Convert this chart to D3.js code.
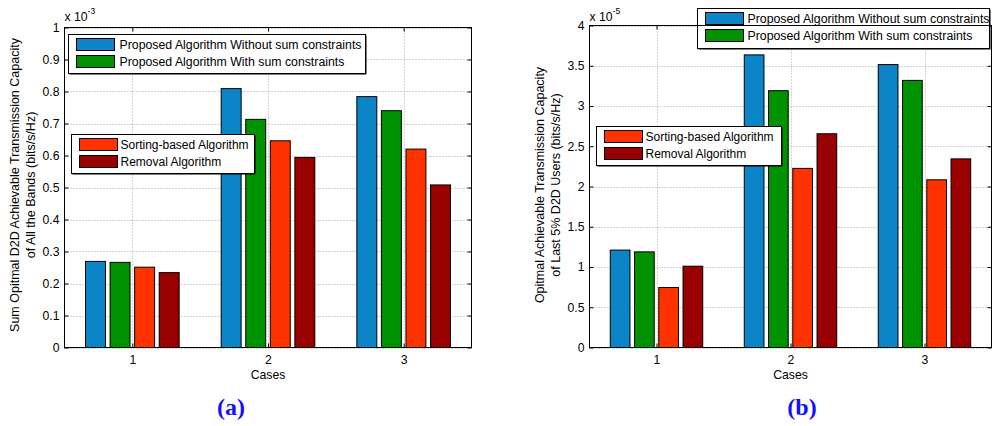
<!DOCTYPE html>
<html><head><meta charset="utf-8">
<script src="https://cdn.jsdelivr.net/npm/d3@7"></script>
<style>
body{margin:0;background:#fff}
svg{display:block}
text{font-family:Arial,"Liberation Sans",Helvetica,sans-serif;fill:#000}
</style>
</head><body>
<svg id="fig" width="992" height="426"></svg>
<script>
// Cases on the x axis and the four compared algorithms
const cases = [1, 2, 3];
const seriesNames = [
  "Proposed Algorithm Without sum constraints",
  "Proposed Algorithm With sum constraints",
  "Sorting-based Algorithm",
  "Removal Algorithm"
];
const seriesColors = ["#0b84c8", "#009200", "#ff3300", "#990000"];

// (a) sum capacity over all bands, in units of 1e-3 bits/s/Hz
const sumWithout = [0.269, 0.809, 0.784];
const sumWith    = [0.266, 0.713, 0.740];
const sumSorting = [0.251, 0.646, 0.620];
const sumRemoval = [0.234, 0.594, 0.508];
const sumTicks = [0, 0.1, 0.2, 0.3, 0.4, 0.5, 0.6, 0.7, 0.8, 0.9, 1];
const sumTickLabels = ["0", "0.1", "0.2", "0.3", "0.4", "0.5", "0.6", "0.7", "0.8", "0.9", "1"];

// (b) capacity of the last 5% D2D users, in units of 1e-5 bits/s/Hz
const lastWithout = [1.210, 3.635, 3.515];
const lastWith    = [1.188, 3.190, 3.318];
const lastSorting = [0.745, 2.225, 2.083];
const lastRemoval = [1.010, 2.655, 2.343];
const lastTicks = [0, 0.5, 1, 1.5, 2, 2.5, 3, 3.5, 4];
const lastTickLabels = ["0", "0.5", "1", "1.5", "2", "2.5", "3", "3.5", "4"];

const FS = 12.2;

const svg = d3.select("#fig");
svg.append("rect").attr("width", 992).attr("height", 426).attr("fill", "#fff");

// bar group layout in x-axis units
const barOffsets = [-0.2715, -0.0905, 0.0905, 0.2715];
const barWidth = 0.147;

function drawPanel(o) {
  const g = svg.append("g");
  const x = d3.scaleLinear().domain([0.5, 3.5]).range([o.left, o.right]);
  const y = d3.scaleLinear().domain([0, o.ymax]).range([o.bottom, o.top]);

  // dotted grid
  const grid = g.append("g").attr("stroke", "#a8a8a8").attr("stroke-width", 1)
    .attr("stroke-dasharray", "1,2").attr("fill", "none");
  o.ticks.forEach(t => {
    const yy = Math.round(y(t)) + 0.5;
    grid.append("line").attr("x1", o.left).attr("x2", o.right).attr("y1", yy).attr("y2", yy);
  });
  cases.forEach(c => {
    const xx = Math.round(x(c)) + 0.5;
    grid.append("line").attr("x1", xx).attr("x2", xx).attr("y1", o.top).attr("y2", o.bottom);
  });

  // bars
  const bars = g.append("g");
  o.series.forEach((vals, si) => {
    vals.forEach((v, ci) => {
      const x0 = x(cases[ci] + barOffsets[si] - barWidth / 2);
      const x1 = x(cases[ci] + barOffsets[si] + barWidth / 2);
      bars.append("rect")
        .attr("x", x0).attr("width", x1 - x0)
        .attr("y", y(v)).attr("height", y(0) - y(v))
        .attr("fill", seriesColors[si])
        .attr("stroke", "#000").attr("stroke-width", 1);
    });
  });

  // axes: ticks pointing inward on all four sides
  const yAxisL = d3.axisLeft(y).tickValues(o.ticks).tickSize(-4).tickPadding(5)
    .tickFormat((d, i) => o.tickLabels[i]);
  const gl = g.append("g").attr("transform", `translate(${o.left},0)`).call(yAxisL);
  const yAxisR = d3.axisRight(y).tickValues(o.ticks).tickSize(-4).tickFormat("");
  const gr = g.append("g").attr("transform", `translate(${o.right},0)`).call(yAxisR);
  const xAxisB = d3.axisBottom(x).tickValues(cases).tickSize(-4).tickPadding(7.5)
    .tickFormat(d3.format("d"));
  const gb = g.append("g").attr("transform", `translate(0,${o.bottom})`).call(xAxisB);
  const xAxisT = d3.axisTop(x).tickValues(cases).tickSize(-4).tickFormat("");
  const gt = g.append("g").attr("transform", `translate(0,${o.top})`).call(xAxisT);
  [gl, gr, gb, gt].forEach(a => {
    a.select(".domain").remove();
    a.selectAll("text").attr("font-size", FS).attr("font-family", "Arial, 'Liberation Sans', sans-serif").attr("fill", "#000");
    a.selectAll("line").attr("stroke", "#000");
  });

  // legends (drawn over the bars)
  o.legends.forEach(L => {
    const lg = g.append("g");
    lg.append("rect").attr("x", L.x + 1).attr("y", L.y + 1).attr("width", L.w).attr("height", L.h)
      .attr("fill", "#000");
    lg.append("rect").attr("x", L.x).attr("y", L.y).attr("width", L.w).attr("height", L.h)
      .attr("fill", "#fff").attr("stroke", "#000").attr("stroke-width", 1);
    L.items.forEach((si, k) => {
      const cy = L.y + 10 + k * 17;
      lg.append("rect").attr("x", L.x + 8).attr("y", cy - 6).attr("width", 38).attr("height", 12)
        .attr("fill", seriesColors[si]).attr("stroke", "#000").attr("stroke-width", 1);
      lg.append("text").attr("x", L.x + L.tx).attr("y", cy).attr("dy", "0.36em")
        .attr("font-size", L.fs).text(seriesNames[si]);
    });
  });

  // axis box
  g.append("rect").attr("x", o.left).attr("y", o.top)
    .attr("width", o.right - o.left).attr("height", o.bottom - o.top)
    .attr("fill", "none").attr("stroke", "#000").attr("stroke-width", 1);

  // exponent label
  const ex = g.append("text").attr("x", o.left).attr("y", 20.5).attr("font-size", FS);
  ex.append("tspan").text("x 10");
  ex.append("tspan").attr("font-size", 8.5).attr("dy", -6.5).text(o.exponent);

  // y label (two lines)
  o.ylabel.forEach((line, k) => {
    g.append("text")
      .attr("transform", `translate(${o.ylabelX[k]},${o.ylabelY}) rotate(-90)`)
      .attr("text-anchor", "middle").attr("dy", "0.35em")
      .attr("font-size", 12.5).text(line);
  });

  // x label
  g.append("text").attr("x", (o.left + o.right) / 2).attr("y", 375).attr("dy", "0.35em")
    .attr("text-anchor", "middle").attr("font-size", FS).text("Cases");

  // panel tag
  g.append("text").attr("x", o.tagX).attr("y", 407).attr("dy", "0.33em")
    .attr("text-anchor", "middle")
    .style("font-family", "'Liberation Serif','Times New Roman',serif")
    .attr("font-weight", "bold").attr("font-size", 24)
    .style("fill", "#1010ff").text(o.tag);
}

drawPanel({
  left: 64.5, right: 471.5, top: 27.5, bottom: 347.5, ymax: 1,
  ticks: sumTicks, tickLabels: sumTickLabels,
  series: [sumWithout, sumWith, sumSorting, sumRemoval],
  exponent: "-3",
  ylabel: ["Sum Opitmal D2D Achievable Transmission Capacity", "of All the Bands (bits/s/Hz)"],
  ylabelX: [15, 31], ylabelY: 185,
  legends: [
    { x: 68.5, y: 34.5, w: 297, h: 39, items: [0, 1], tx: 51, fs: 12.3 },
    { x: 71.5, y: 134.5, w: 183, h: 39, items: [2, 3], tx: 49, fs: 12 }
  ],
  tag: "(a)", tagX: 231
});

drawPanel({
  left: 589.5, right: 991.5, top: 25.5, bottom: 347.5, ymax: 4,
  ticks: lastTicks, tickLabels: lastTickLabels,
  series: [lastWithout, lastWith, lastSorting, lastRemoval],
  exponent: "-5",
  ylabel: ["Opitmal Achievable Transmission Capacity", "of Last 5% D2D Users (bits/s/Hz)"],
  ylabelX: [540, 556], ylabelY: 185,
  legends: [
    { x: 697.5, y: 8.5, w: 292, h: 40, items: [0, 1], tx: 50, fs: 12.3 },
    { x: 596.5, y: 126.5, w: 185, h: 39, items: [2, 3], tx: 49, fs: 12 }
  ],
  tag: "(b)", tagX: 802
});
</script>
</body></html>
